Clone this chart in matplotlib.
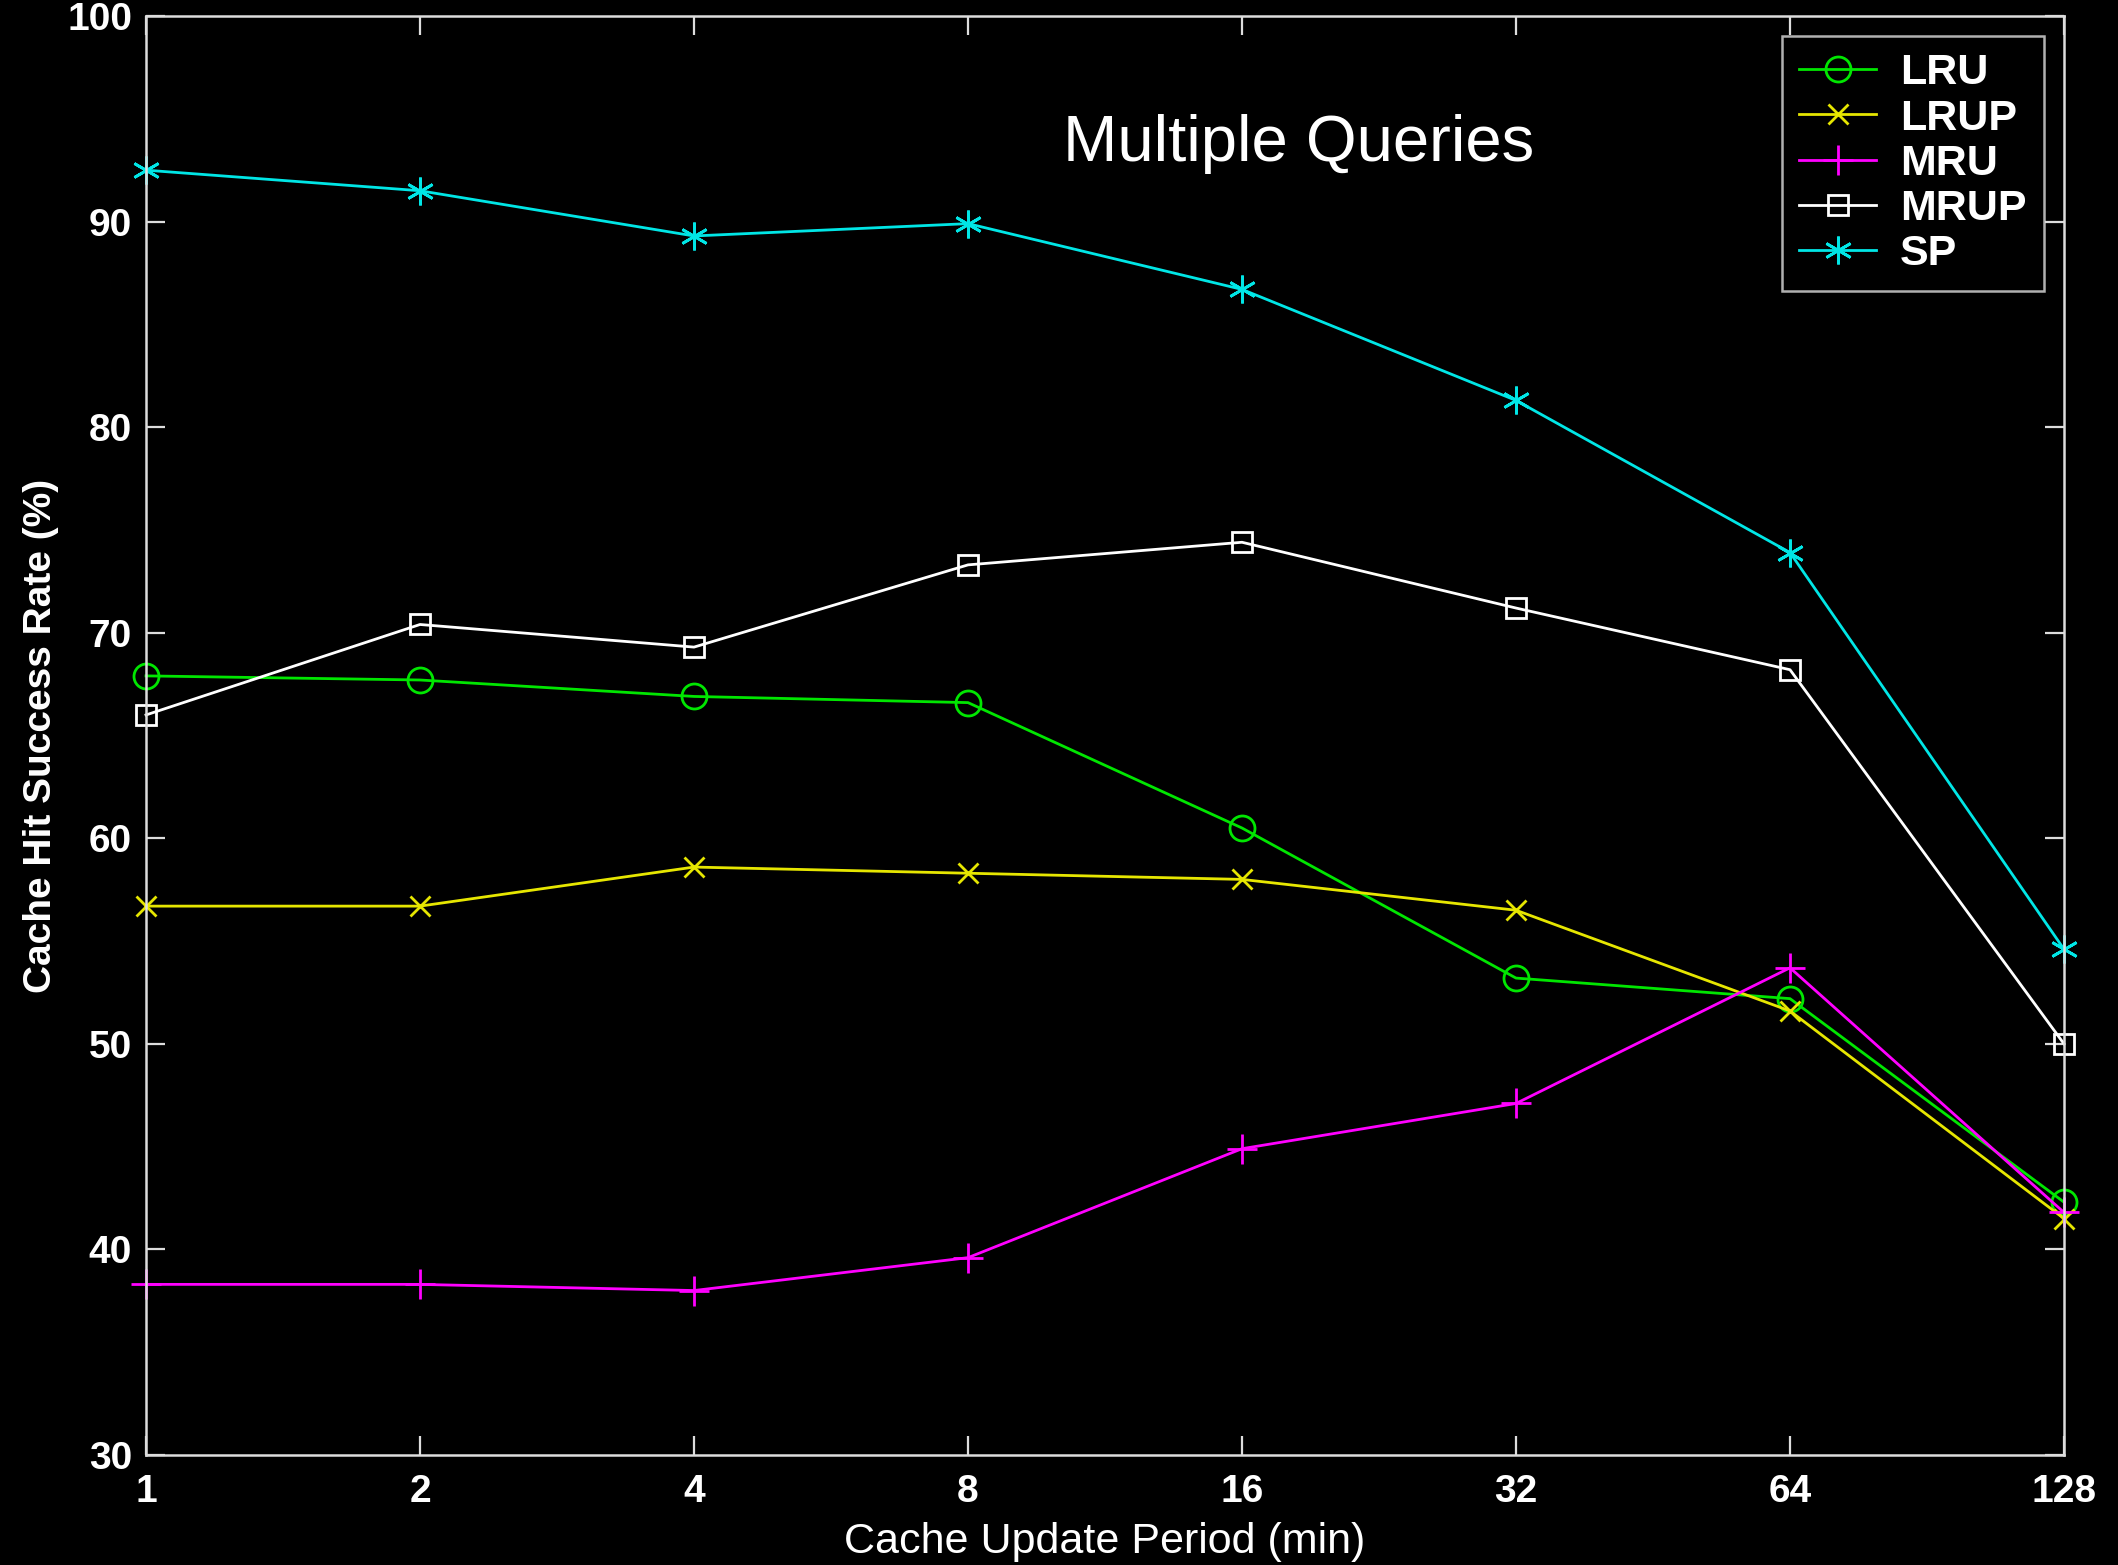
import numpy as np
import matplotlib.pyplot as plt

# Cache update period (min)
period = [1, 2, 4, 8, 16, 32, 64, 128]

# Cache hit success rate (%)
lru = [67.9, 67.7, 66.9, 66.6, 60.5, 53.2, 52.2, 42.3]
lrup = [56.7, 56.7, 58.6, 58.3, 58.0, 56.5, 51.6, 41.5]
mru = [38.3, 38.3, 38.0, 39.6, 44.9, 47.1, 53.7, 41.8]
mrup = [66.0, 70.4, 69.3, 73.3, 74.4, 71.2, 68.2, 50.0]
sp = [92.5, 91.5, 89.3, 89.9, 86.7, 81.3, 73.9, 54.6]

plt.rcParams['font.family'] = ['Liberation Sans', 'DejaVu Sans']

fig = plt.figure(figsize=(21.18, 15.65), dpi=100, facecolor='black')
ax = fig.add_axes([146/2118, 1 - 1455/1565, (2064 - 146)/2118, (1455 - 16)/1565])
ax.set_facecolor('black')

lw = 2.0
ax.plot(period, lru, color='#00e600', marker='o', ms=18, mfc='none', mew=lw, lw=lw, label='LRU', clip_on=False)
ax.plot(period, lrup, color='#e6e600', marker='x', ms=15, mew=lw, lw=lw, label='LRUP', clip_on=False)
ax.plot(period, mru, color='#ff00ff', marker='+', ms=22, mew=lw, lw=lw, label='MRU', clip_on=False)
ax.plot(period, mrup, color='white', marker='s', ms=15, mfc='none', mew=lw, lw=lw, label='MRUP', clip_on=False)
ax.plot(period, sp, color='#00e6e6', marker=(6, 2, 0), ms=20, mew=lw, lw=lw, label='SP', clip_on=False)

ax.set_xscale('log', base=2)
ax.set_xlim(1, 128)
ax.set_ylim(30, 100)
ax.set_xticks(period)
ax.set_xticklabels([str(p) for p in period])
ax.minorticks_off()
ax.set_yticks(np.arange(30, 101, 10))

for s in ax.spines.values():
    s.set_color('#dddddd')
    s.set_linewidth(1.8)
ax.tick_params(axis='both', direction='in', length=14, width=1.6, color='#dddddd',
               labelcolor='white', labelsize=28, top=True, right=True)
ax.tick_params(axis='x', pad=14)
ax.tick_params(axis='y', pad=10)
for lab in ax.get_xticklabels() + ax.get_yticklabels():
    lab.set_fontweight('bold')

ax.set_xlabel('Cache Update Period (min)', color='white', fontsize=31, labelpad=8)
ax.set_ylabel('Cache Hit Success Rate (%)', color='white', fontsize=28, fontweight='bold', labelpad=6)

ax.text(0.601, 0.911, 'Multiple Queries', transform=ax.transAxes, color='white',
        fontsize=47, ha='center', va='center')

leg = ax.legend(loc='upper right', bbox_to_anchor=(0.9894, 0.986), fontsize=31,
                frameon=True, fancybox=False, handlelength=1.8, handletextpad=0.55,
                borderpad=0.4, labelspacing=0.12, borderaxespad=0)
leg.get_frame().set_facecolor('black')
leg.get_frame().set_edgecolor('#dddddd')
leg.get_frame().set_linewidth(1.8)
for t in leg.get_texts():
    t.set_color('white')
    t.set_fontweight('bold')

fig.savefig('out.png', dpi=100, facecolor='black')
